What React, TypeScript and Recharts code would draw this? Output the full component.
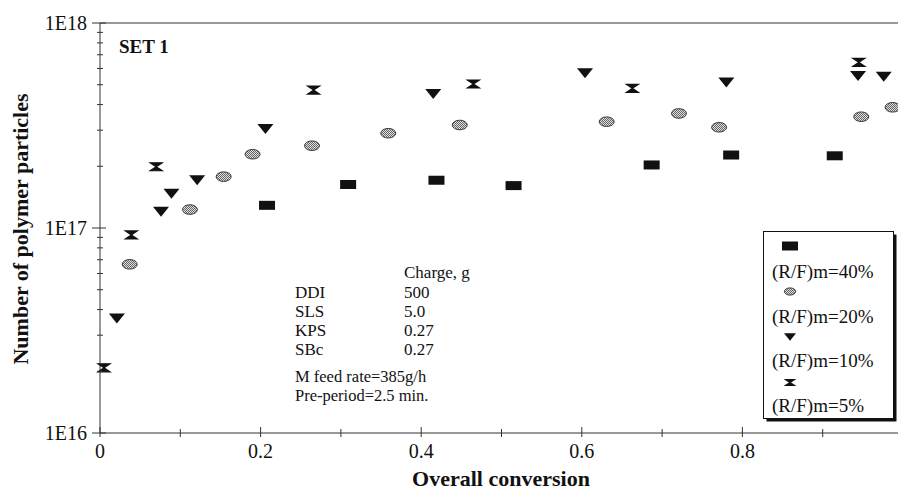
import React from "react";
import { ScatterChart, Scatter, XAxis, YAxis, ReferenceLine, Legend } from "recharts";

// overall conversion (x) and number of particles (y) for each (R/F)m run
const conv40 = [0.208, 0.309, 0.419, 0.515, 0.687, 0.786, 0.915];
const num40 = [1.29e17, 1.63e17, 1.71e17, 1.61e17, 2.03e17, 2.27e17, 2.25e17];

const conv20 = [0.037, 0.112, 0.154, 0.19, 0.264, 0.359, 0.448, 0.631, 0.721, 0.771, 0.948, 0.987];
const num20 = [6.65e16, 1.23e17, 1.78e17, 2.29e17, 2.52e17, 2.9e17, 3.18e17, 3.3e17, 3.62e17, 3.1e17, 3.49e17, 3.88e17];

const conv10 = [0.021, 0.076, 0.089, 0.121, 0.206, 0.415, 0.604, 0.78, 0.944, 0.976];
const num10 = [3.62e16, 1.2e17, 1.47e17, 1.71e17, 3.04e17, 4.51e17, 5.68e17, 5.12e17, 5.51e17, 5.47e17];

const conv5 = [0.005, 0.039, 0.07, 0.266, 0.465, 0.663, 0.945];
const num5 = [2.08e16, 9.25e16, 1.99e17, 4.71e17, 5.04e17, 4.8e17, 6.43e17];

const xTicks = [0, 0.1, 0.2, 0.3, 0.4, 0.5, 0.6, 0.7, 0.8, 0.9, 1];
const xLabels = ["0", "", "0.2", "", "0.4", "", "0.6", "", "0.8", "", ""];

const yTicks = [
  1e16, 2e16, 3e16, 4e16, 5e16, 6e16, 7e16, 8e16, 9e16,
  1e17, 2e17, 3e17, 4e17, 5e17, 6e17, 7e17, 8e17, 9e17, 1e18,
];

const chargeNames = ["DDI", "SLS", "KPS", "SBc"];
const chargeValues = ["500", "5.0", "0.27", "0.27"];

const FONT = "'Liberation Serif', 'Times New Roman', serif";
const INK = "#111";

type Kind = "square" | "circle" | "triangle" | "hourglass";

const series: { name: string; kind: Kind; xs: number[]; ys: number[] }[] = [
  { name: "(R/F)m=40%", kind: "square", xs: conv40, ys: num40 },
  { name: "(R/F)m=20%", kind: "circle", xs: conv20, ys: num20 },
  { name: "(R/F)m=10%", kind: "triangle", xs: conv10, ys: num10 },
  { name: "(R/F)m=5%", kind: "hourglass", xs: conv5, ys: num5 },
];

const toPoints = (xs: number[], ys: number[]) => xs.map((x, i) => ({ x, y: ys[i] }));

function Marker({ kind, cx, cy, s = 1 }: { kind: Kind; cx: number; cy: number; s?: number }) {
  if (cx == null || cy == null) return null;
  switch (kind) {
    case "square":
      return <rect x={cx - 8} y={cy - 4.5} width={16} height={9} fill={INK} />;
    case "circle":
      return (
        <ellipse cx={cx} cy={cy} rx={7.5 * s} ry={4.8 * s} fill="url(#hatch)" stroke="#3a3a3a" strokeWidth={1} />
      );
    case "triangle":
      return (
        <polygon
          points={`${cx - 8 * s},${cy - 5 * s} ${cx + 8 * s},${cy - 5 * s} ${cx},${cy + 5 * s}`}
          fill={INK}
        />
      );
    default:
      return (
        <path
          d={`M${cx - 6 * s},${cy - 4 * s} H${cx + 6 * s} L${cx - 6 * s},${cy + 4 * s} H${cx + 6 * s} Z`}
          fill={INK}
          stroke={INK}
          strokeWidth={1.2}
        />
      );
  }
}

const XTick = (props: any) => {
  const { x, y, index } = props;
  const major = index % 2 === 0;
  return (
    <g>
      <line x1={x} x2={x} y1={y - (major ? 6 : 4)} y2={y + 4} stroke="#333" />
      <text x={x} y={y + 25} textAnchor="middle" fontFamily={FONT} fontSize={20} fill={INK}>
        {xLabels[index] ?? ""}
      </text>
    </g>
  );
};

const YTick = (props: any) => {
  const { x, y, payload } = props;
  const v: number = payload.value;
  const exp = Math.round(Math.log10(v));
  const major = Math.abs(v - Math.pow(10, exp)) / v < 1e-6;
  return (
    <g>
      <line x1={x - (major ? 8 : 3)} x2={x + (major ? 6 : 3)} y1={y} y2={y} stroke="#333" />
      {major && (
        <text x={x - 13} y={y + 7} textAnchor="end" fontFamily={FONT} fontSize={20} fill={INK}>
          {`1E${exp}`}
        </text>
      )}
    </g>
  );
};

const LegendBox = () => (
  <svg width={134} height={192} style={{ display: "block" }}>
    <rect x={3.5} y={3.5} width={130} height={187} fill={INK} />
    <rect x={0.5} y={0.5} width={130} height={187} fill="#fff" stroke={INK} />
    {series.map((s, i) => (
      <g key={s.name}>
        <Marker kind={s.kind} cx={27} cy={15 + i * 45.5} s={0.75} />
        <text x={9} y={47 + i * 44.5} fontFamily={FONT} fontSize={19} fill={INK}>
          {s.name}
        </text>
      </g>
    ))}
  </svg>
);

export default function App() {
  return (
    <div style={{ position: "absolute", left: 0, top: 0, width: 898, height: 491, overflow: "hidden", background: "#fff" }}>
      <ScatterChart width={910} height={491} margin={{ top: 23, right: 7, left: 0, bottom: 0 }}>
        <XAxis
          type="number"
          dataKey="x"
          domain={[0, 1]}
          ticks={xTicks}
          interval={0}
          height={58}
          tickSize={0}
          tickMargin={0}
          tickLine={false}
          axisLine={{ stroke: "#333" }}
          tick={<XTick />}
        />
        <YAxis
          type="number"
          dataKey="y"
          scale="log"
          domain={[1e16, 1e18]}
          ticks={yTicks}
          interval={0}
          width={100}
          tickSize={0}
          tickMargin={0}
          tickLine={false}
          axisLine={{ stroke: "#333" }}
          tick={<YTick />}
          allowDataOverflow
        />
        <ReferenceLine y={1e18} stroke="#333" />
        {series.map((s) => (
          <Scatter
            key={s.name}
            name={s.name}
            data={toPoints(s.xs, s.ys)}
            isAnimationActive={false}
            shape={(p: any) => <Marker kind={s.kind} cx={p.cx} cy={p.cy} />}
          />
        ))}
        <Legend
          layout="vertical"
          align="center"
          verticalAlign="middle"
          wrapperStyle={{ left: 763, top: 231, width: 134, height: 192 }}
          content={() => <LegendBox />}
        />
      </ScatterChart>

      <svg
        width={898}
        height={491}
        style={{ position: "absolute", left: 0, top: 0, pointerEvents: "none" }}
        fontFamily={FONT}
        fill={INK}
      >
        <defs>
          <pattern id="hatch" patternUnits="userSpaceOnUse" width={2} height={2}>
            <rect width={2} height={2} fill="#dedede" />
            <rect width={1} height={1} fill="#666" />
            <rect x={1} y={1} width={1} height={1} fill="#666" />
          </pattern>
        </defs>
        <text x={119} y={53} fontSize={19} fontWeight="bold">SET 1</text>
        <text x={404} y={278} fontSize={17}>Charge, g</text>
        {chargeNames.map((n, i) => (
          <g key={n}>
            <text x={295} y={298 + i * 19} fontSize={17}>{n}</text>
            <text x={404} y={298 + i * 19} fontSize={17}>{chargeValues[i]}</text>
          </g>
        ))}
        <text x={295} y={382} fontSize={16.5}>M feed rate=385g/h</text>
        <text x={295} y={401} fontSize={16.5}>Pre-period=2.5 min.</text>
        <text x={501} y={486} fontSize={22} fontWeight="bold" textAnchor="middle">Overall conversion</text>
        <text x={28} y={229} fontSize={22} fontWeight="bold" textAnchor="middle" transform="rotate(-90 28 229)">
          Number of polymer particles
        </text>
      </svg>
    </div>
  );
}
